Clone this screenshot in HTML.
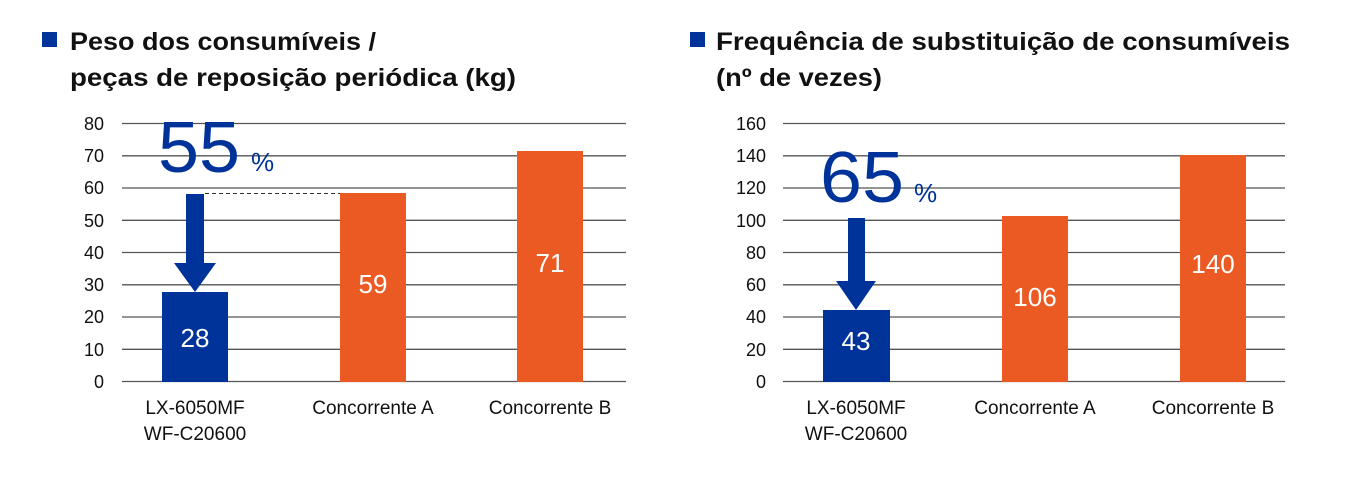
<!DOCTYPE html>
<html><head><meta charset="utf-8"><style>
body{margin:0;background:#fff;}
svg text{font-family:"Liberation Sans","Noto Sans CJK JP",sans-serif;}
</style></head><body>
<svg width="1360" height="473" viewBox="0 0 1360 473" xmlns="http://www.w3.org/2000/svg">
<g font-size="25" fill="#111">
<rect x="42" y="32" width="15" height="15" fill="#00339a"/>
<text x="70" y="50" font-weight="bold" textLength="306" lengthAdjust="spacingAndGlyphs">Peso dos consumíveis /</text>
<text x="70" y="86" font-weight="bold" textLength="446" lengthAdjust="spacingAndGlyphs">peças de reposição periódica (kg)</text>
<rect x="690" y="32" width="15" height="15" fill="#00339a"/>
<text x="716" y="50" font-weight="bold" textLength="574" lengthAdjust="spacingAndGlyphs">Frequência de substituição de consumíveis</text>
<text x="716" y="86" font-weight="bold" textLength="166" lengthAdjust="spacingAndGlyphs">(nº de vezes)</text>
</g>
<!-- left grid -->
<g stroke="#555" stroke-width="1.3">
<line x1="122" x2="626" y1="123.5" y2="123.5"/><line x1="122" x2="626" y1="155.8" y2="155.8"/>
<line x1="122" x2="626" y1="188" y2="188"/><line x1="122" x2="626" y1="220.3" y2="220.3"/>
<line x1="122" x2="626" y1="252.5" y2="252.5"/><line x1="122" x2="626" y1="284.8" y2="284.8"/>
<line x1="122" x2="626" y1="317" y2="317"/><line x1="122" x2="626" y1="349.3" y2="349.3"/>
<line x1="122" x2="626" y1="381.5" y2="381.5"/>
</g>
<g font-size="18" fill="#111" text-anchor="end">
<text x="104" y="130">80</text><text x="104" y="162">70</text><text x="104" y="194">60</text><text x="104" y="227">50</text><text x="104" y="259">40</text><text x="104" y="291">30</text><text x="104" y="323">20</text><text x="104" y="356">10</text><text x="104" y="388">0</text>
</g>
<rect x="162" y="292" width="66" height="90" fill="#00339a"/>
<rect x="340" y="193" width="66" height="189" fill="#ec5a24"/>
<rect x="517" y="151" width="66" height="231" fill="#ec5a24"/>
<line x1="205" x2="340" y1="193.5" y2="193.5" stroke="#333" stroke-dasharray="4,3" stroke-width="1"/>
<polygon points="186,194 204,194 204,263 216,263 195,292 174,263 186,263" fill="#00339a"/>
<g fill="#fff" font-size="26" text-anchor="middle">
<text x="195" y="347">28</text><text x="373" y="293">59</text><text x="550" y="272">71</text>
</g>
<text x="158" y="172" font-size="72" fill="#00339a" textLength="82" lengthAdjust="spacingAndGlyphs">55</text>
<text x="251" y="171" font-size="26" fill="#00339a">%</text>
<g font-size="19" fill="#111" text-anchor="middle">
<text x="195" y="414">LX-6050MF</text><text x="195" y="440">WF-C20600</text>
<text x="373" y="414">Concorrente A</text><text x="550" y="414">Concorrente B</text>
</g>
<!-- right grid -->
<g stroke="#555" stroke-width="1.3">
<line x1="783" x2="1285" y1="123.5" y2="123.5"/><line x1="783" x2="1285" y1="155.8" y2="155.8"/>
<line x1="783" x2="1285" y1="188" y2="188"/><line x1="783" x2="1285" y1="220.3" y2="220.3"/>
<line x1="783" x2="1285" y1="252.5" y2="252.5"/><line x1="783" x2="1285" y1="284.8" y2="284.8"/>
<line x1="783" x2="1285" y1="317" y2="317"/><line x1="783" x2="1285" y1="349.3" y2="349.3"/>
<line x1="783" x2="1285" y1="381.5" y2="381.5"/>
</g>
<g font-size="18" fill="#111" text-anchor="end">
<text x="766" y="130">160</text><text x="766" y="162">140</text><text x="766" y="194">120</text><text x="766" y="227">100</text><text x="766" y="259">80</text><text x="766" y="291">60</text><text x="766" y="323">40</text><text x="766" y="356">20</text><text x="766" y="388">0</text>
</g>
<rect x="823" y="310" width="67" height="72" fill="#00339a"/>
<rect x="1002" y="216" width="66" height="166" fill="#ec5a24"/>
<rect x="1180" y="155" width="66" height="227" fill="#ec5a24"/>
<polygon points="848,218 865,218 865,281 853,281 876,281 856,310 836,281 848,281" fill="#00339a"/>
<g fill="#fff" font-size="26" text-anchor="middle">
<text x="856" y="350">43</text><text x="1035" y="306">106</text><text x="1213" y="273">140</text>
</g>
<text x="820" y="202" font-size="72" fill="#00339a" textLength="84" lengthAdjust="spacingAndGlyphs">65</text>
<text x="914" y="202" font-size="26" fill="#00339a">%</text>
<g font-size="19" fill="#111" text-anchor="middle">
<text x="856" y="414">LX-6050MF</text><text x="856" y="440">WF-C20600</text>
<text x="1035" y="414">Concorrente A</text><text x="1213" y="414">Concorrente B</text>
</g>
</svg>
</body></html>
